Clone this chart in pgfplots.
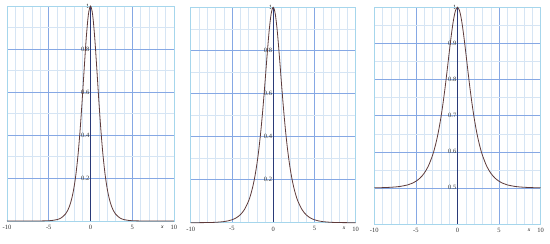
\documentclass[border=0pt]{standalone}
\usepackage{pgfplots}
\pgfplotsset{compat=1.18}
\usepackage{fontspec}
\setmainfont{Liberation Serif}

\definecolor{framec}{HTML}{A6D6EC}
\definecolor{majorc}{HTML}{86A8E4}
\definecolor{minorc}{HTML}{D6E5F4}
\definecolor{axisc}{HTML}{2A3A78}
\definecolor{curvec}{HTML}{5E3B3B}

\pgfplotsset{
  panel/.style={
    scale only axis,
    anchor=south west,
    xmin=-10, xmax=10,
    axis x line=bottom,
    axis y line=middle,
    axis line style={axisc, line width=0.8pt, -},
    xtick={-10,-5,0,5,10},
    minor x tick num=4,
    major tick length=0pt, minor tick length=0pt,
    grid=both,
    major grid style={majorc, line width=0.5pt},
    minor grid style={minorc, line width=0.4pt},
    axis background/.style={fill=white},
    tick label style={font=\fontsize{6.5}{7}\selectfont, text=black!80},
    /pgf/number format/assume math mode=true,
    xticklabel style={yshift=-0.5pt},
    yticklabel style={inner sep=1pt},
    xlabel={\itshape x},
    xlabel style={at={(rel axis cs:0.93,0)}, anchor=north, yshift=-1pt, font=\fontsize{5.5}{6}\selectfont},
    hide obscured x ticks=false,
    hide obscured y ticks=false,
    clip=false,
  },
  curve/.style={curvec, line width=0.8pt, smooth, no markers},
}

\begin{document}
\begin{tikzpicture}
\useasboundingbox (0,0) rectangle (550pt,244pt);

% left panel
\begin{axis}[panel, at={(7pt,23pt)}, width=167pt, height=215pt,
  ymin=0, ymax=1, ytick={0.2,0.4,0.6,0.8,1}, minor y tick num=1]
\draw[framec, line width=0.6pt] (rel axis cs:0,0) rectangle (rel axis cs:1,1);
\addplot[curve] coordinates {
 (-10,0) (-7,0.0001) (-6,0.0003) (-5,0.0013) (-4.5,0.0030) (-4,0.0066) (-3.5,0.0147)
 (-3,0.0324) (-2.75,0.0479) (-2.5,0.0707) (-2.25,0.1036) (-2,0.1505) (-1.75,0.2162)
 (-1.5,0.3050) (-1.25,0.4200) (-1,0.5591) (-0.75,0.7116) (-0.5,0.8556) (-0.25,0.9610)
 (0,1)
 (0.25,0.9610) (0.5,0.8556) (0.75,0.7116) (1,0.5591) (1.25,0.4200) (1.5,0.3050)
 (1.75,0.2162) (2,0.1505) (2.25,0.1036) (2.5,0.0707) (2.75,0.0479) (3,0.0324)
 (3.5,0.0147) (4,0.0066) (4.5,0.0030) (5,0.0013) (6,0.0003) (7,0.0001) (10,0)
};
\end{axis}

% middle panel
\begin{axis}[panel, at={(190.7pt,21.3pt)}, width=165pt, height=215.4pt,
  ymin=0, ymax=1, ytick={0.2,0.4,0.6,0.8,1}, minor y tick num=1]
\draw[framec, line width=0.6pt] (rel axis cs:0,0) rectangle (rel axis cs:1,1);
\addplot[curve] coordinates {
 (-10,0.0001) (-9,0.0002) (-8,0.0007) (-7,0.0018) (-6,0.0050) (-5.5,0.0082) (-5,0.0135)
 (-4.5,0.0222) (-4,0.0366) (-3.5,0.0603) (-3,0.0993) (-2.75,0.1273) (-2.5,0.1631)
 (-2.25,0.2085) (-2,0.2658) (-1.75,0.3374) (-1.5,0.4251) (-1.25,0.5295) (-1,0.6481)
 (-0.75,0.7724) (-0.5,0.8868) (-0.25,0.9695) (0,1)
 (0.25,0.9695) (0.5,0.8868) (0.75,0.7724) (1,0.6481) (1.25,0.5295) (1.5,0.4251)
 (1.75,0.3374) (2,0.2658) (2.25,0.2085) (2.5,0.1631) (2.75,0.1273) (3,0.0993)
 (3.5,0.0603) (4,0.0366) (4.5,0.0222) (5,0.0135) (5.5,0.0082) (6,0.0050) (7,0.0018)
 (8,0.0007) (9,0.0002) (10,0.0001)
};
\end{axis}

% right panel
\begin{axis}[panel, at={(374.3pt,20pt)}, width=166.4pt, height=216.7pt,
  ymin=0.4, ymax=1, ytick={0.5,0.6,0.7,0.8,0.9,1}, minor y tick num=1]
\draw[framec, line width=0.6pt] (rel axis cs:0,0) rectangle (rel axis cs:1,1);
\addplot[curve] coordinates {
 (-10,0.5003) (-9,0.5007) (-8,0.5017) (-7,0.5037) (-6,0.5082) (-5.5,0.5123) (-5,0.5183)
 (-4.5,0.5273) (-4,0.5407) (-3.5,0.5606) (-3,0.5900) (-2.75,0.6095) (-2.5,0.6329)
 (-2.25,0.6609) (-2,0.6940) (-1.75,0.7325) (-1.5,0.7761) (-1.25,0.8240) (-1,0.8739)
 (-0.75,0.9218) (-0.5,0.9625) (-0.25,0.9902) (0,1)
 (0.25,0.9902) (0.5,0.9625) (0.75,0.9218) (1,0.8739) (1.25,0.8240) (1.5,0.7761)
 (1.75,0.7325) (2,0.6940) (2.25,0.6609) (2.5,0.6329) (2.75,0.6095) (3,0.5900)
 (3.5,0.5606) (4,0.5407) (4.5,0.5273) (5,0.5183) (5.5,0.5123) (6,0.5082) (7,0.5037)
 (8,0.5017) (9,0.5007) (10,0.5003)
};
\end{axis}
\end{tikzpicture}
\end{document}
